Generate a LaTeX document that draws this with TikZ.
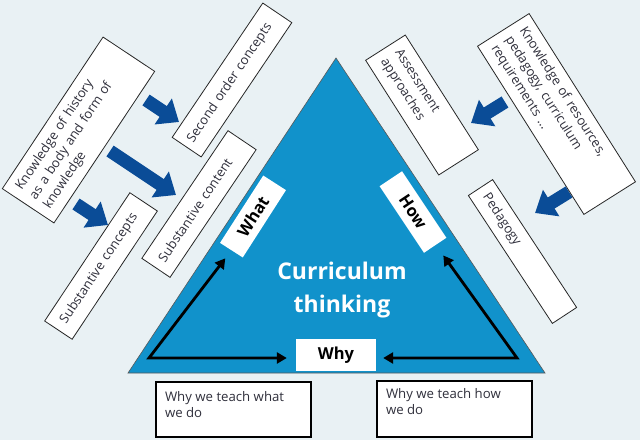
\documentclass[tikz,border=0pt]{standalone}
\usepackage{fontspec}
\setmainfont{Open Sans}
\usetikzlibrary{arrows.meta}
\definecolor{bg}{HTML}{E9F1F4}
\definecolor{tri}{HTML}{1192CB}
\definecolor{dblue}{HTML}{0A4C97}
\definecolor{txt}{HTML}{30303C}
\hyphenpenalty=10000
\begin{document}
\begin{tikzpicture}[x=1pt,y=-1pt,
  rbox/.style={draw=black!85, line width=0.8pt, fill=white, inner xsep=9pt, inner ysep=0pt,
    align=left, font=\fontsize{13}{16.8}\selectfont, text=txt},
  lbl/.style={fill=white, font=\bfseries\fontsize{16.5}{18}\selectfont, inner sep=0pt,
    minimum width=80pt, minimum height=27pt, text=black},
  bbox/.style={draw=black, line width=1.3pt, fill=white, inner xsep=9pt, inner ysep=0pt,
    font=\fontsize{13.2}{16.5}\selectfont, text=txt},
  bluearrow/.style={draw=dblue, line width=13pt, -{Triangle[length=19pt,width=30pt]}},
  blackarrow/.style={draw=black, line width=2.8pt, line join=miter,
    {Triangle[length=10pt,width=11pt]}-{Triangle[length=10pt,width=11pt]}}
]
\fill[bg] (0,0) rectangle (640,440);
\useasboundingbox (0,0) rectangle (640,440);

% central triangle
\filldraw[fill=tri, draw=black!65, line width=0.6pt] (336,58) -- (545,373) -- (128,373) -- cycle;

% left boxes
\node[rbox, rotate=56.4, text width=164pt, minimum height=62pt] (hist) at (78.5,130)
  {Knowledge of history\\as a body and form of\\knowledge};
\node[rbox, rotate=56, inner xsep=7pt, text width=148pt, minimum height=35pt] (soc) at (232,80)
  {Second order concepts};
\node[rbox, rotate=56, text width=136pt, minimum height=34pt] (scont) at (199,204)
  {Substantive content};
\node[rbox, rotate=56.4, text width=136pt, minimum height=33pt] (sconc) at (101,266)
  {Substantive concepts};

% right boxes
\node[rbox, rotate=-57.5, text width=118pt, minimum height=47pt] (assess) at (422,105)
  {Assessment\\approaches};
\node[rbox, rotate=-57.7, text width=181pt, minimum height=61pt] (res) at (556.5,114)
  {Knowledge of resources,\\pedagogy, curriculum\\requirements …};
\node[rbox, rotate=-56.7, text width=135pt, minimum height=29pt] (ped) at (522.5,251.5)
  {Pedagogy};

% labels on triangle
\node[lbl, rotate=57.3] (what) at (253,216.5) {What};
\node[lbl, rotate=-56.3] (how) at (413,212) {How};
\node[lbl, minimum width=80pt, minimum height=32pt] (why) at (336,355) {Why};

\node[font=\bfseries\fontsize{23}{33}\selectfont, text=white, align=center] (title)
  at (342,290) {Curriculum\\thinking};

% bottom boxes
\node[bbox] (wwhat) at (233.5,409.5)
  {\parbox[c][55pt][t]{137pt}{\rule{0pt}{19pt}Why we teach what\\we do}};
\node[bbox] (whow) at (454.5,409)
  {\parbox[c][56pt][t]{137pt}{\rule{0pt}{17pt}Why we teach how\\we do}};

% blue block arrows
\coordinate (a1s) at (146,100); \coordinate (a1e) at (179,122);
\coordinate (a2s) at (110,151); \coordinate (a2e) at (176,195);
\coordinate (a3s) at (76,204);  \coordinate (a3e) at (108,225);
\coordinate (a4s) at (505,102); \coordinate (a4e) at (471,123);
\coordinate (a5s) at (569,192); \coordinate (a5e) at (535,213);
\draw[bluearrow] (a1s) -- (a1e);
\draw[bluearrow] (a2s) -- (a2e);
\draw[bluearrow] (a3s) -- (a3e);
\draw[bluearrow] (a4s) -- (a4e);
\draw[bluearrow] (a5s) -- (a5e);

% black arrows
\coordinate (lc) at (149,358);
\coordinate (rc) at (517,358);
\draw[blackarrow] ([shift={(-6,8)}]what.west) -- (lc) -- ([shift={(-9,3)}]why.west);
\draw[blackarrow] ([shift={(8,10)}]how.east) -- (rc) -- ([shift={(7,3)}]why.east);
\end{tikzpicture}
\end{document}
